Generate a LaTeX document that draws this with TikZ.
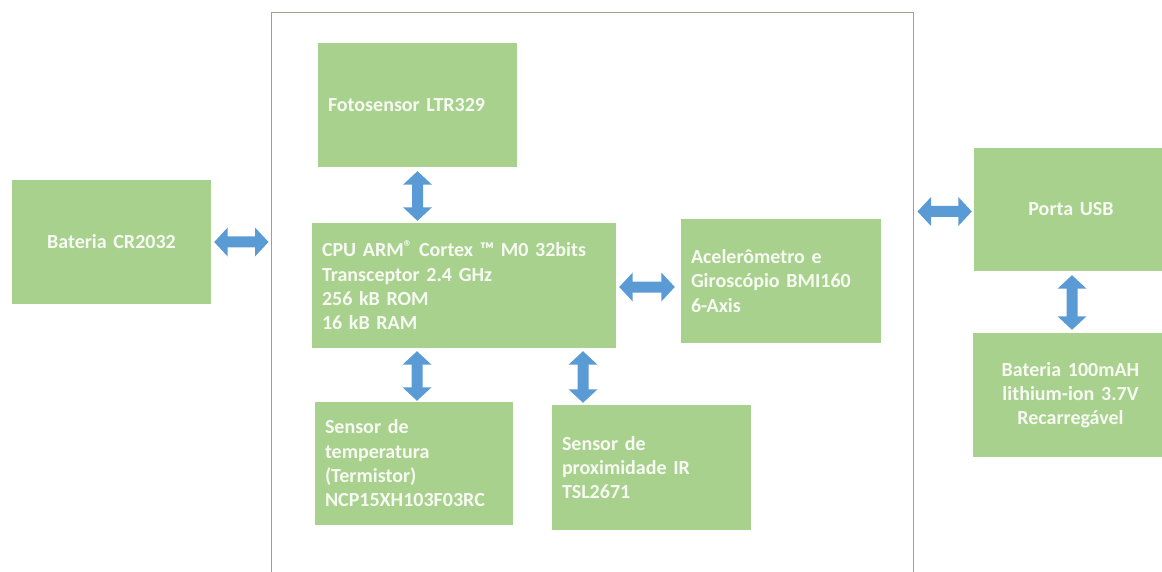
\documentclass[tikz,border=0pt]{standalone}
\usepackage{fontspec}
\setmainfont{Carlito}
\usetikzlibrary{calc}
\definecolor{boxgreen}{HTML}{A9D18E}
\definecolor{arrowblue}{HTML}{5B9BD5}
\definecolor{framegray}{HTML}{95A78B}
\definecolor{txtwhite}{HTML}{F7FAF3}
\newcommand\harrow[2]{\fill[arrowblue] let \p1=(#1), \p2=(#2) in
  (\x1,\y1) -- (\x1+13.5pt,\y1+14.5pt) -- (\x1+13.5pt,\y1+5.5pt) -- (\x2-13.5pt,\y1+5.5pt) -- (\x2-13.5pt,\y1+14.5pt) -- (\x2,\y1)
  -- (\x2-13.5pt,\y1-14.5pt) -- (\x2-13.5pt,\y1-5.5pt) -- (\x1+13.5pt,\y1-5.5pt) -- (\x1+13.5pt,\y1-14.5pt) -- cycle;}
\newcommand\varrow[2]{\fill[arrowblue] let \p1=(#1), \p2=(#2) in
  (\x1,\y1) -- (\x1+14.5pt,\y1-13.5pt) -- (\x1+5.5pt,\y1-13.5pt) -- (\x1+5.5pt,\y2+13.5pt) -- (\x1+14.5pt,\y2+13.5pt) -- (\x1,\y2)
  -- (\x1-14.5pt,\y2+13.5pt) -- (\x1-5.5pt,\y2+13.5pt) -- (\x1-5.5pt,\y1-13.5pt) -- (\x1-14.5pt,\y1-13.5pt) -- cycle;}
\newcommand\regmark{\raisebox{0.2em}{\fontsize{17}{17}\selectfont ®}}
\tikzset{
  gbox/.style={rectangle, fill=boxgreen, draw=none, text=txtwhite, font=\fontsize{20}{24.3}\selectfont\bfseries,
    inner xsep=10pt, inner ysep=0pt},
  lbox/.style={gbox, align=left},
  cbox/.style={gbox, align=center},
}
\begin{document}
\begin{tikzpicture}[x=1pt,y=-1pt]
\useasboundingbox[fill=white] (0,0) rectangle (1162,572);
% outer frame
\node[draw=framegray, line width=1pt, minimum width=642pt, minimum height=600pt, inner sep=0pt] (frame) at (592,313) {};
% boxes
\node[lbox, text width=179pt, minimum width=199pt, minimum height=124pt] (foto) at (417.5,105) {Fotosensor LTR329};
\node[cbox, text width=179pt, minimum width=199pt, minimum height=124pt] (bat) at (111.5,242) {Bateria CR2032};
\node[lbox, text width=284pt, minimum width=304pt, minimum height=125pt] (cpu) at (464,285.5)
  {CPU ARM\regmark\ Cortex ™ M0 32bits\\Transceptor 2.4 GHz\\256 kB ROM\\16 kB RAM};
\node[lbox, text width=180pt, minimum width=200pt, minimum height=124pt] (acel) at (781,281)
  {Acelerômetro e\\Giroscópio BMI160\\6-Axis};
\node[cbox, text width=174pt, minimum width=194pt, minimum height=123pt] (usb) at (1071,209.5) {Porta USB};
\node[cbox, text width=175pt, minimum width=195pt, minimum height=124pt] (b100) at (1070.5,395)
  {Bateria 100mAH\\lithium-ion 3.7V\\Recarregável};
\node[lbox, text width=178pt, minimum width=198pt, minimum height=123pt] (temp) at (414,463.5)
  {Sensor de\\temperatura\\(Termistor)\\NCP15XH103F03RC};
\node[lbox, text width=179pt, minimum width=199pt, minimum height=125pt] (prox) at (651.5,467.5)
  {Sensor de\\proximidade IR\\TSL2671};
% arrow end points
\coordinate (a1l) at ($(bat.east)+(3,0)$);
\coordinate (a1r) at ($(bat.east -| frame.west)+(-2,0)$);
\coordinate (a2t) at ($(foto.south)+(0,4)$);
\coordinate (a2b) at ($(a2t |- cpu.north)+(0,-2)$);
\coordinate (a3l) at ($(cpu.east)+(3,1.5)$);
\coordinate (a3r) at ($(acel.west |- a3l)+(-6,0)$);
\coordinate (a4l) at ($(frame.east |- usb.west)+(4,2)$);
\coordinate (a4r) at ($(usb.west)+(-2,2)$);
\coordinate (a5t) at ($(usb.south)+(1,4)$);
\coordinate (a5b) at ($(b100.north)+(1.5,-3)$);
\coordinate (a6t) at ($(cpu.south -| temp.north)+(3,3)$);
\coordinate (a6b) at ($(temp.north)+(3,-1)$);
\coordinate (a7t) at ($(cpu.south)+(119,3)$);
\coordinate (a7b) at ($(a7t |- prox.north)+(0,-2)$);
% arrows
\harrow{a1l}{a1r}
\varrow{a2t}{a2b}
\harrow{a3l}{a3r}
\harrow{a4l}{a4r}
\varrow{a5t}{a5b}
\varrow{a6t}{a6b}
\varrow{a7t}{a7b}
\end{tikzpicture}
\end{document}
